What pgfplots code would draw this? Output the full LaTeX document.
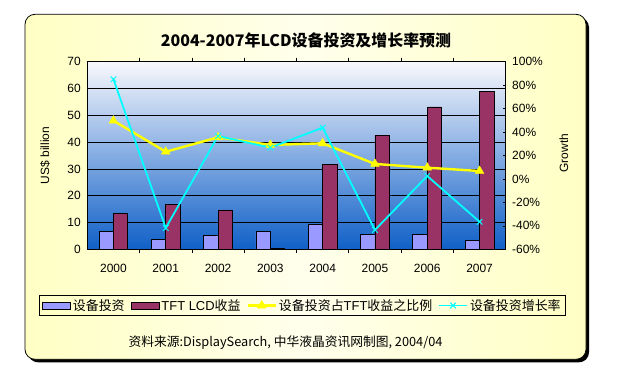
\documentclass[border=0pt]{standalone}
\usepackage{fontspec}
\setmainfont{Liberation Sans}
\newfontfamily\cjk{Noto Sans CJK SC}
\usepackage{pgfplots}
\pgfplotsset{compat=1.18}

\definecolor{barA}{HTML}{9999FF}
\definecolor{barB}{HTML}{993366}
\definecolor{lineY}{HTML}{FFFF00}
\definecolor{lineC}{HTML}{00FFFF}
\definecolor{boxEdge}{HTML}{FFFFC4}
\definecolor{boxMid}{HTML}{FFFFEC}
\definecolor{plotTop}{HTML}{F8F8FC}
\definecolor{plotMid}{HTML}{94B0E2}
\definecolor{plotBot}{HTML}{1060C8}

\pgfplotsset{
  barleg/.style={legend image code/.code={\draw[##1] (0bp,-3.5bp) rectangle (28bp,3.5bp);}},
  lineleg/.style={legend image code/.code={\draw[mark repeat=2,mark phase=2,##1] plot coordinates {(0bp,0bp) (14bp,0bp) (28bp,0bp)};}},
}

\begin{document}
\begin{tikzpicture}[x=1bp,y=1bp]
\path[use as bounding box] (0,0) rectangle (623,391);
\fill[black, rounded corners=10bp] (28,28.7) rectangle (589,373.7);
\shadedraw[left color=boxEdge, right color=boxEdge, middle color=boxMid, draw=black, line width=0.8bp, rounded corners=10bp] (25,31.7) rectangle (586,376.7);
\node at (306,351) {\cjk\bfseries\fontsize{16}{18}\selectfont 2004-2007年LCD设备投资及增长率预测};
\node at (285.5,48.3) {\cjk\fontsize{12.8}{14}\selectfont 资料来源:DisplaySearch, 中华液晶资讯网制图, 2004/04};

\begin{axis}[
  at={(87.3bp,141.7bp)}, anchor=south west, scale only axis,
  width=418.4bp, height=187.6bp,
  xmin=-0.5, xmax=7.5, ymin=0, ymax=70,
  /pgf/number format/assume math mode=true,
  xtick={0,1,2,3,4,5,6,7},
  xticklabels={2000,2001,2002,2003,2004,2005,2006,2007},
  minor xtick={0.5,1.5,2.5,3.5,4.5,5.5,6.5},
  ytick={0,10,20,30,40,50,60,70},
  ymajorgrids, grid style={black, line width=0.7bp},
  tick align=inside, major tick length=0pt, minor tick length=4bp,
  minor tick style={black, line width=0.7bp},
  axis line style={black, line width=0.8bp},
  ybar=0pt, bar width=14.4bp,
  font=\fontsize{12}{14}\selectfont,
  xticklabel style={yshift=-11bp},
  yticklabel style={xshift=-3bp},
  ylabel={US\$ billion},
  every axis y label/.style={at={(axis description cs:-0.101,0.5)}, rotate=90, anchor=center},
  axis background/.style={top color=plotTop, middle color=plotMid, bottom color=plotBot},
]
\addplot[fill=barA, draw=black, line width=0.8bp] coordinates {(0,6.8) (1,3.8) (2,5.3) (3,6.8) (4,9.3) (5,5.6) (6,5.6) (7,3.4)};
\addplot[fill=barB, draw=black, line width=0.8bp] coordinates {(0,13.4) (1,16.8) (2,14.7) (3,0.4) (4,31.7) (5,42.6) (6,53.1) (7,59.0)};
\end{axis}

\begin{axis}[
  at={(87.3bp,141.7bp)}, anchor=south west, scale only axis,
  width=418.4bp, height=187.6bp,
  xmin=-0.5, xmax=7.5, ymin=-60, ymax=100,
  /pgf/number format/assume math mode=true,
  axis y line*=right, axis x line=none,
  ytick={-60,-40,-20,0,20,40,60,80,100},
  yticklabel={\pgfmathprintnumber{\tick}\%},
  yticklabel style={xshift=3bp},
  tick align=inside, major tick length=3bp,
  ytick style={black, line width=0.7bp},
  axis line style={black, line width=0.8bp},
  font=\fontsize{12}{14}\selectfont,
  ylabel={Growth},
  every axis y label/.style={at={(axis description cs:1.139,0.513)}, rotate=90, anchor=center},
  legend style={at={(0.514,-0.2996)}, anchor=center, legend columns=4, draw=black, line width=0.8bp, fill=none,
    font=\fontsize{13}{15}\selectfont, /tikz/every even column/.append style={column sep=4bp}},
]
\addlegendimage{barleg, fill=barA, draw=black, line width=0.8bp}
\addlegendentry{{\cjk 设备投资}}
\addlegendimage{barleg, fill=barB, draw=black, line width=0.8bp}
\addlegendentry{TFT LCD{\cjk 收益}}
\addplot[lineleg, color=lineY, line width=2.4bp, mark=triangle*, mark size=5bp, mark options={fill=lineY, line width=0.5bp}]
  coordinates {(0,49.7) (1,23.2) (2,35.5) (3,29) (4,30.4) (5,12.8) (6,9.6) (7,6.8)};
\addlegendentry{{\cjk 设备投资占}TFT{\cjk 收益之比例}}
\addplot[lineleg, color=lineC, line width=1.8bp, mark=x, mark size=4bp, mark options={line width=1bp}]
  coordinates {(0,85) (1,-41.8) (2,36.6) (3,26.7) (4,43.7) (5,-43.5) (6,2.5) (7,-36.5)};
\addlegendentry{{\cjk 设备投资增长率}}
\end{axis}
\end{tikzpicture}
\end{document}
